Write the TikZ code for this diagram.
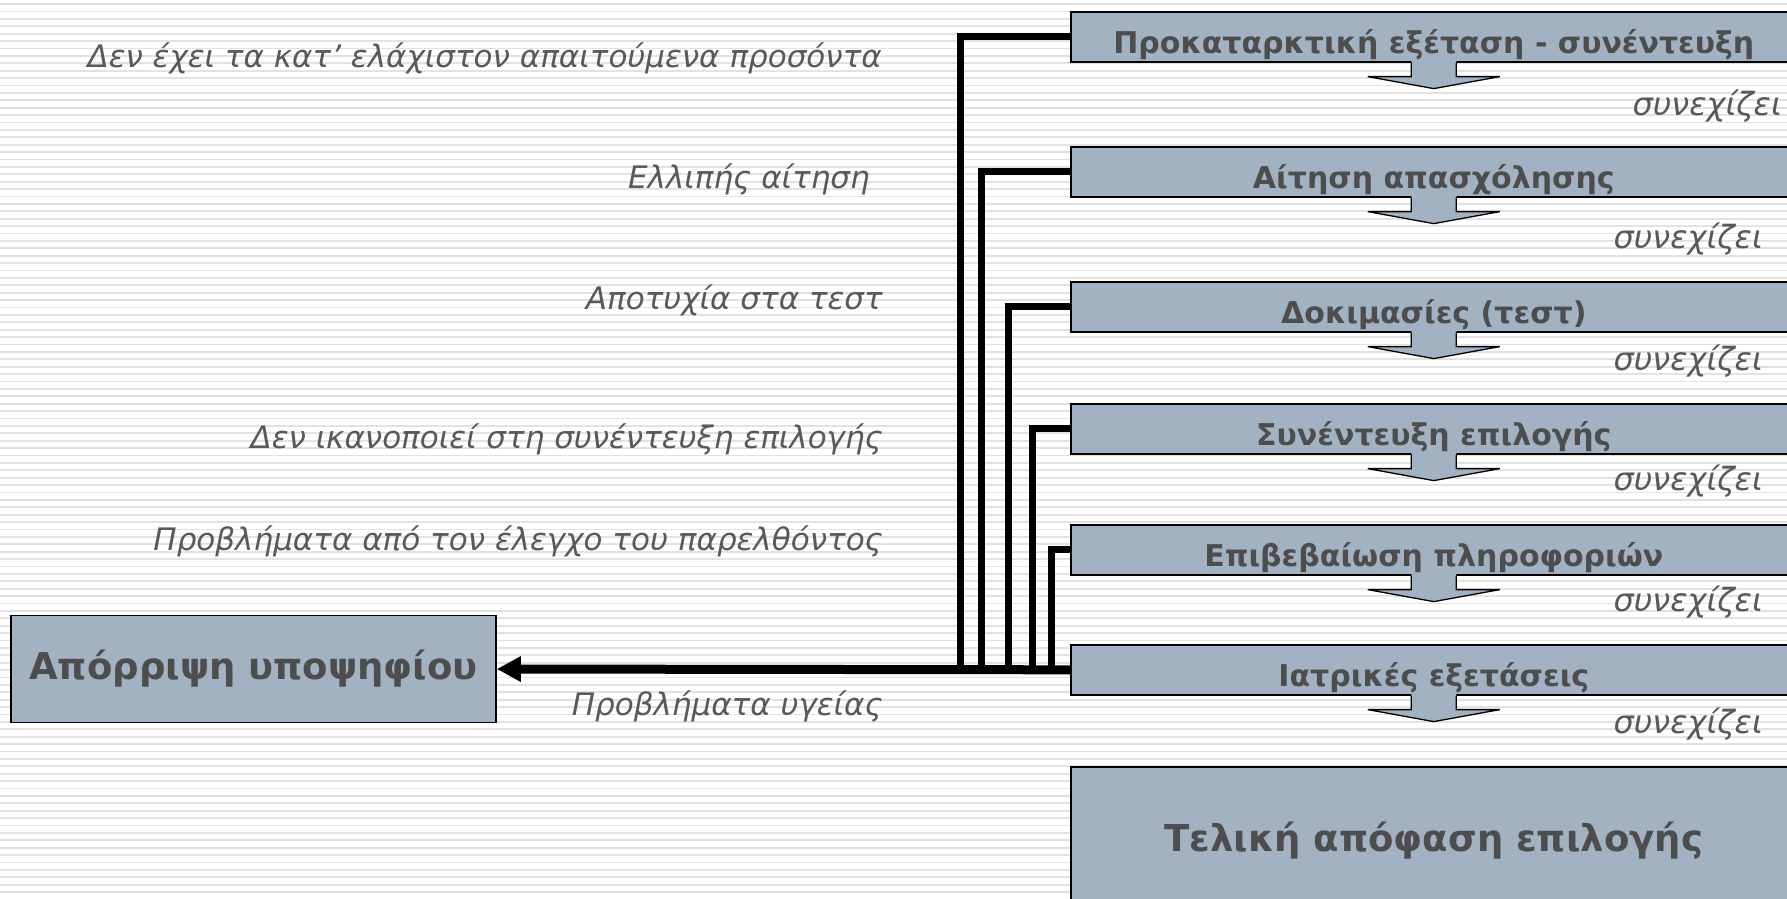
\documentclass[tikz,border=0pt]{standalone}
\usepackage{fontspec}
\setmainfont{DejaVu Sans}
\usetikzlibrary{arrows.meta}
\definecolor{boxfill}{HTML}{A3B2C2}
\definecolor{boxtext}{HTML}{4D4D4D}
\definecolor{labtext}{HTML}{595959}
\definecolor{stripecol}{HTML}{E2E2E2}
\tikzset{
  basebox/.style={draw=black, line width=1.6pt, fill=boxfill, text=boxtext,
    minimum width=726pt, inner sep=0pt, anchor=north west},
  stepbox/.style={basebox, font=\bfseries\fontsize{30}{34}\selectfont,
    minimum height=50pt, text height=33pt, text depth=0pt},
  bigbox/.style={basebox, font=\bfseries\fontsize{37}{42}\selectfont},
  lab/.style={text=labtext, font=\itshape\fontsize{31}{35}\selectfont,
    inner sep=0pt, anchor=base east},
  cont/.style={lab, font=\itshape\fontsize{32}{36}\selectfont},
  conn/.style={draw=black, line width=7pt, line join=miter},
  flowarrow/.style={draw=black, line width=1.3pt, line join=miter},
}
\begin{document}
\begin{tikzpicture}[x=1pt,y=-1pt]
\useasboundingbox (0,0) rectangle (1787,898);
\clip (0,0) rectangle (1787,898);
\fill[white] (0,0) rectangle (1787,898);
\foreach \i in {0,...,121}
  \draw[stripecol, line width=1.8pt] (0,{4+7.4*\i}) -- (1787,{4+7.4*\i});

% step boxes
\node[stepbox] (b1) at (1070,11)  {Προκαταρκτική εξέταση - συνέντευξη};
\node[stepbox] (b2) at (1070,146) {Αίτηση απασχόλησης};
\node[stepbox] (b3) at (1070,281) {Δοκιμασίες (τεστ)};
\node[stepbox] (b4) at (1070,403) {Συνέντευξη επιλογής};
\node[stepbox] (b5) at (1070,524) {Επιβεβαίωση πληροφοριών};
\node[stepbox] (b6) at (1070,644) {Ιατρικές εξετάσεις};
\node[bigbox, minimum height=148pt] (b7) at (1070,766) {Τελική απόφαση επιλογής};
\node[bigbox, anchor=center, minimum width=485pt, minimum height=107pt] (rej) at (253.5,669) {Απόρριψη υποψηφίου};

% block arrows below the steps
\foreach \n in {b1,b2,b3,b4,b5,b6} {
  \fill[boxfill] ([xshift=-22.5pt,yshift=1.5pt]\n.south) -- ([xshift=-22.5pt,yshift=-14pt]\n.south)
    -- ([xshift=-66pt,yshift=-14pt]\n.south) -- ([yshift=-26pt]\n.south)
    -- ([xshift=66pt,yshift=-14pt]\n.south) -- ([xshift=22.5pt,yshift=-14pt]\n.south)
    -- ([xshift=22.5pt,yshift=1.5pt]\n.south) -- cycle;
  \draw[flowarrow] ([xshift=-22.5pt]\n.south) -- ([xshift=-22.5pt,yshift=-14pt]\n.south)
    -- ([xshift=-66pt,yshift=-14pt]\n.south) -- ([yshift=-26pt]\n.south)
    -- ([xshift=66pt,yshift=-14pt]\n.south) -- ([xshift=22.5pt,yshift=-14pt]\n.south)
    -- ([xshift=22.5pt]\n.south);
}

% junctions on the main line
\coordinate (j1) at (960,669);
\coordinate (j2) at (981.5,669);
\coordinate (j3) at (1008,669);
\coordinate (j4) at (1032.5,669);
\coordinate (j5) at (1051,669);

\draw[conn] (b1.west) -| (j1);
\draw[conn] (b2.west) -| (j2);
\draw[conn] (b3.west) -| (j3);
\draw[conn] (b4.west) -| (j4);
\draw[conn] (b5.west) -| (j5);
\draw[conn, line width=9pt, -{Triangle[length=24pt,width=24pt]}] (b6.west) -- (rej.east);

% rejection reasons
\node[lab] (l1) at (882,67)  {Δεν έχει τα κατ’ ελάχιστον απαιτούμενα προσόντα};
\node[lab] (l2) at (870,188) {Ελλιπής αίτηση};
\node[lab] (l3) at (883,309) {Αποτυχία στα τεστ};
\node[lab] (l4) at (883,448) {Δεν ικανοποιεί στη συνέντευξη επιλογής};
\node[lab] (l5) at (883,550) {Προβλήματα από τον έλεγχο του παρελθόντος};
\node[lab] (l6) at (883,715) {Προβλήματα υγείας};

% continue labels
\node[cont] (c1) at (1782,115) {συνεχίζει};
\node[cont] (c2) at (1763,248) {συνεχίζει};
\node[cont] (c3) at (1763,370) {συνεχίζει};
\node[cont] (c4) at (1763,490) {συνεχίζει};
\node[cont] (c5) at (1763,611) {συνεχίζει};
\node[cont] (c6) at (1763,733) {συνεχίζει};
\end{tikzpicture}
\end{document}
